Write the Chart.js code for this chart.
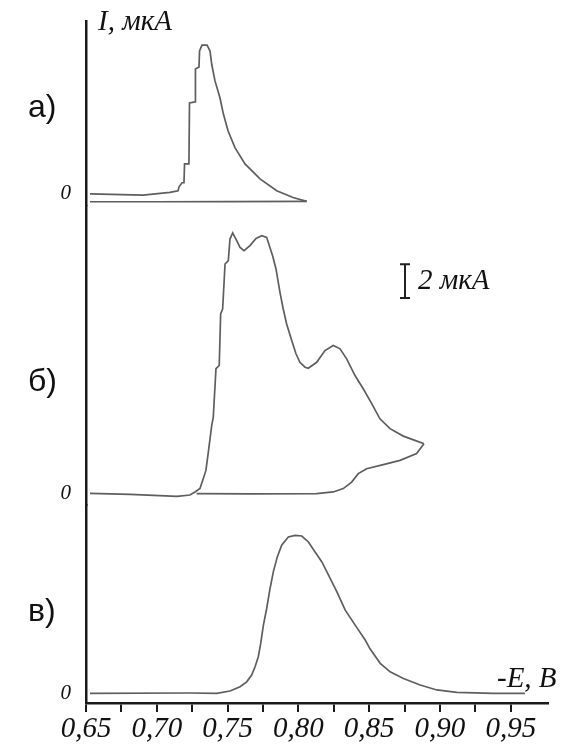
<!DOCTYPE html>
<html>
<head>
<meta charset="utf-8">
<script src="https://cdn.jsdelivr.net/npm/chart.js@4.4.1/dist/chart.umd.min.js"></script>
<style>
    html, body { margin: 0; padding: 0; background: #fff; }
    canvas { display: block; }
</style>
</head>
<body>
<canvas id="myChart" width="563" height="744"></canvas>
<script>
// Potential axis (-E, V) ticks and labels.
const xTicks = [0.65, 0.675, 0.70, 0.725, 0.75, 0.775, 0.80, 0.825, 0.85, 0.875, 0.90, 0.925, 0.95];
const xLabels = ['0,65', '', '0,70', '', '0,75', '', '0,80', '', '0,85', '', '0,90', '', '0,95'];

// Curve a) - forward sweep and return line (E in V, I in uA).
const aForwardE = [0.6528, 0.6903, 0.7093, 0.7150, 0.7157, 0.7178, 0.7192, 0.7196, 0.7227, 0.7231, 0.7270, 0.7273,
    0.7298, 0.7302, 0.7319, 0.7355, 0.7376, 0.7388, 0.7411, 0.7446, 0.7470, 0.7503, 0.7552, 0.7623, 0.7729,
    0.7847, 0.7962, 0.8059];
const aForwardI = [0, -0.08, 0.08, 0.18, 0.41, 0.65, 0.65, 1.76, 1.76, 5.35, 5.41, 7.35,
    7.47, 8.41, 8.76, 8.76, 8.41, 7.63, 6.65, 5.66, 4.71, 3.71, 2.72, 1.76, 0.88,
    0.18, -0.22, -0.45];
const aReturnE = [0.8059, 0.7500, 0.7000, 0.6528];
const aReturnI = [-0.45, -0.46, -0.47, -0.47];

// Curve б)
const bForwardE = [0.6528, 0.6811, 0.7143, 0.7234, 0.7270, 0.7305, 0.7328, 0.7347, 0.7364, 0.7388, 0.7399, 0.7418,
    0.7441, 0.7451, 0.7465, 0.7482, 0.7505, 0.7517, 0.7536, 0.7559, 0.7588, 0.7616, 0.7658, 0.7701, 0.7741,
    0.7776, 0.7795, 0.7818, 0.7842, 0.7870, 0.7893, 0.7917, 0.7953, 0.7983, 0.8011, 0.8047, 0.8070, 0.8129,
    0.8188, 0.8246, 0.8294, 0.8341, 0.8400, 0.8458, 0.8518, 0.8576, 0.8647, 0.8741, 0.8823, 0.8887];
const bForwardI = [0, -0.06, -0.18, -0.10, 0.08, 0.28, 0.86, 1.35, 2.43, 4.00, 4.49, 7.34,
    7.53, 10.57, 10.86, 13.51, 13.71, 14.98, 15.34, 14.98, 14.49, 14.29, 14.59, 15.02, 15.18,
    15.08, 14.59, 14.00, 13.22, 11.84, 10.86, 9.98, 9.00, 8.22, 7.72, 7.43, 7.37, 7.72,
    8.41, 8.71, 8.51, 7.92, 6.94, 6.16, 5.28, 4.39, 3.81, 3.37, 3.12, 2.92];
const bReturnE = [0.8887, 0.8835, 0.8718, 0.8600, 0.8482, 0.8423, 0.8376, 0.8317, 0.8246, 0.8129, 0.7658, 0.7281];
const bReturnI = [2.92, 2.34, 1.94, 1.69, 1.45, 1.16, 0.66, 0.28, 0.08, -0.02, -0.03, -0.02];

// Curve в)
const vE = [0.6528, 0.7234, 0.7423, 0.7517, 0.7588, 0.7635, 0.7670, 0.7694, 0.7717, 0.7734, 0.7753, 0.7776,
    0.7800, 0.7823, 0.7851, 0.7882, 0.7929, 0.7977, 0.8024, 0.8071, 0.8118, 0.8166, 0.8213, 0.8272,
    0.8331, 0.8401, 0.8472, 0.8507, 0.8578, 0.8648, 0.8742, 0.8860, 0.8978, 0.9119, 0.9376, 0.9600];
const vI = [-0.02, 0, -0.02, 0.12, 0.37, 0.66, 1.06, 1.55, 2.14, 2.92, 4.00, 4.98,
    6.16, 7.14, 8.02, 8.71, 9.19, 9.29, 9.25, 8.90, 8.31, 7.72, 6.94, 5.96,
    4.88, 4.00, 3.12, 2.59, 1.75, 1.25, 0.86, 0.47, 0.18, 0.04, -0.02, -0.02];

// Scale bar: 2 uA drawn on the б) axis.
const scaleBarE = 0.8753;
const scaleBarI = [11.5, 13.5];

const toPoints = (es, is) => es.map((e, i) => ({ x: e, y: is[i] }));

const lineColor = '#5e5e5e';
const axisColor = '#1a1a1a';
const serifItalic = (size) => ({ family: "'Liberation Serif', 'Times New Roman', serif", style: 'italic', size: size });

const curve = (data, axis) => ({
    data: data,
    yAxisID: axis,
    borderColor: lineColor,
    borderWidth: 1.7,
    pointRadius: 0,
    fill: false,
    tension: 0,
});

// One y axis per curve, stacked on the left.
const yAxis = (min, max) => ({
    type: 'linear',
    position: 'left',
    stack: 'curves',
    stackWeight: max - min,
    min: min,
    max: max,
    afterBuildTicks: (axis) => { axis.ticks = [{ value: 0 }]; },
    afterFit: (axis) => {
        axis.width = 86;
        axis.paddingTop = 0;
        axis.paddingBottom = 0;
    },
    grid: { display: false, drawTicks: false },
    border: { display: true, color: axisColor, width: 2.5 },
    ticks: {
        callback: () => '0',
        color: '#111',
        padding: 15,
        font: serifItalic(21),
    },
});

// Texts and the scale bar.
const annotations = {
    id: 'annotations',
    afterDraw(chart) {
        const ctx = chart.ctx;
        const x = chart.scales.x;
        const yb = chart.scales.yB;
        ctx.save();
        ctx.fillStyle = '#111';
        ctx.textBaseline = 'alphabetic';
        ctx.textAlign = 'left';

        ctx.font = "italic 29px 'Liberation Serif'";
        ctx.fillText('I, мкА', 98, 30);
        ctx.fillText('-E, В', 497, 687);
        ctx.fillText('2 мкА', 418, 289);

        ctx.font = "32px 'Liberation Sans'";
        ctx.textBaseline = 'middle';
        ctx.fillText('а)', 28, 108);
        ctx.fillText('б)', 28, 382);
        ctx.fillText('в)', 28, 612);

        // 2 uA bar
        const bx = x.getPixelForValue(scaleBarE);
        const by0 = yb.getPixelForValue(scaleBarI[0]);
        const by1 = yb.getPixelForValue(scaleBarI[1]);
        ctx.strokeStyle = '#222';
        ctx.lineWidth = 2;
        ctx.beginPath();
        ctx.moveTo(bx, by0); ctx.lineTo(bx, by1);
        ctx.moveTo(bx - 5, by0); ctx.lineTo(bx + 5, by0);
        ctx.moveTo(bx - 5, by1); ctx.lineTo(bx + 5, by1);
        ctx.stroke();
        ctx.restore();
    }
};

const ctx = document.getElementById('myChart').getContext('2d');
const chart = new Chart(ctx, {
    type: 'line',
    data: {
        datasets: [
            curve(toPoints(aForwardE, aForwardI), 'yA'),
            curve(toPoints(aReturnE, aReturnI), 'yA'),
            curve(toPoints(bForwardE, bForwardI), 'yB'),
            curve(toPoints(bReturnE, bReturnI), 'yB'),
            curve(toPoints(vE, vI), 'yV'),
        ]
    },
    options: {
        responsive: false,
        animation: false,
        layout: { padding: { top: 21, right: 15, left: 0, bottom: 0 } },
        plugins: { legend: { display: false }, tooltip: { enabled: false } },
        scales: {
            x: {
                type: 'linear',
                position: 'bottom',
                min: 0.65,
                max: 0.9763,
                afterBuildTicks: (axis) => { axis.ticks = xTicks.map(v => ({ value: v })); },
                afterFit: (axis) => { axis.height = 41; },
                grid: { drawOnChartArea: false, drawTicks: true, tickLength: 9, color: axisColor, lineWidth: 2 },
                border: { display: true, color: axisColor, width: 2.5 },
                ticks: {
                    autoSkip: false,
                    maxRotation: 0,
                    padding: 0,
                    color: '#111',
                    font: serifItalic(29),
                    callback: (value, index) => xLabels[index],
                },
            },
            yV: yAxis(-0.588, 11.06),
            yB: yAxis(-0.706, 16.94),
            yA: yAxis(-0.706, 10.18),
        }
    },
    plugins: [annotations]
});
</script>
</body>
</html>
